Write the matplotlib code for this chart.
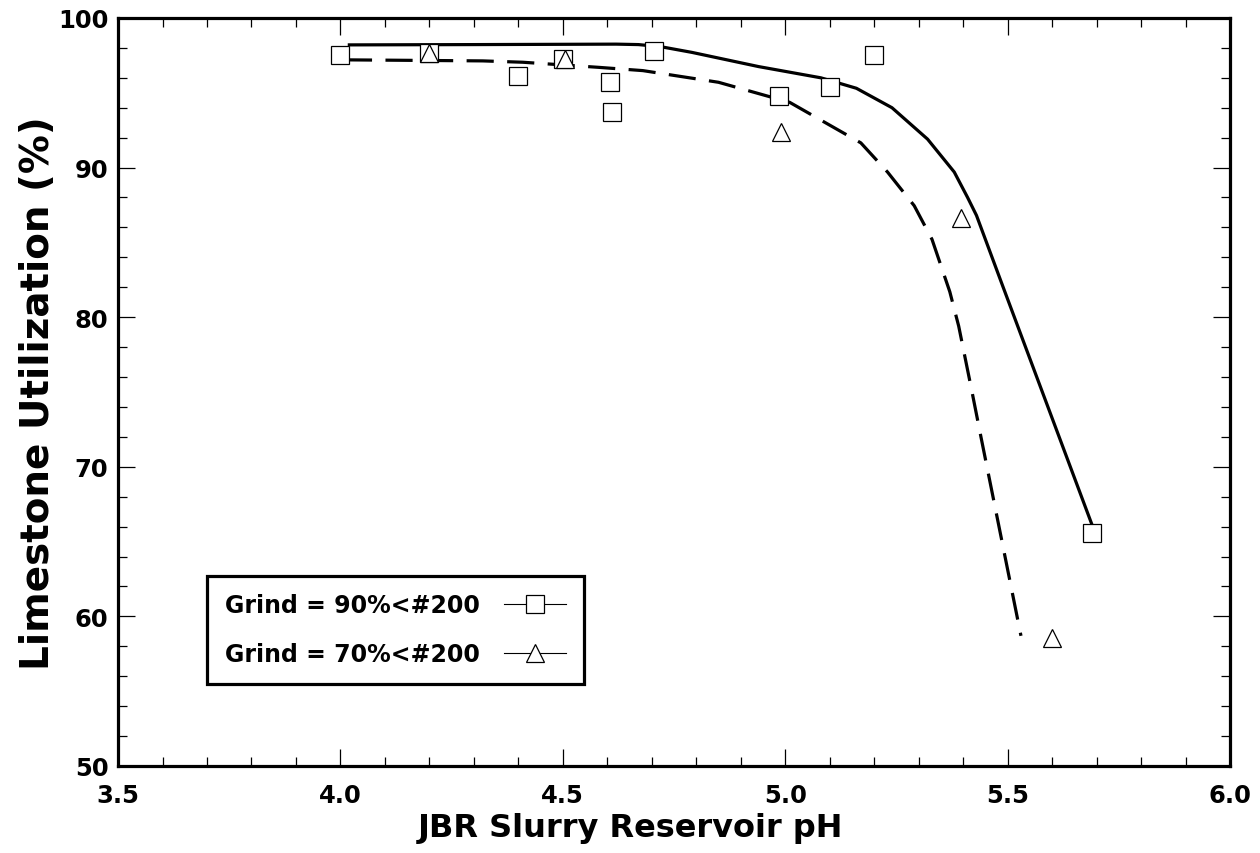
import matplotlib
matplotlib.use("Agg")
import matplotlib.pyplot as plt
from matplotlib.lines import Line2D
from matplotlib.ticker import MultipleLocator

# measured points, grind 90% < #200 (squares)
ph_90 = [4.00, 4.20, 4.40, 4.50, 4.605, 4.61, 4.705, 4.985, 5.10, 5.20, 5.69]
util_90 = [97.55, 97.65, 96.1, 97.25, 95.7, 93.7, 97.8, 94.8, 95.4, 97.55, 65.55]

# measured points, grind 70% < #200 (triangles)
ph_70 = [4.20, 4.505, 4.99, 5.395, 5.60]
util_70 = [97.65, 97.25, 92.4, 86.65, 58.55]

# fitted curves
fit_ph_90 = [4.02, 4.30, 4.62, 4.67, 4.72, 4.79, 4.94, 5.08, 5.16, 5.24, 5.32, 5.38,
             5.41, 5.43, 5.49, 5.69]
fit_util_90 = [98.2, 98.22, 98.25, 98.22, 98.08, 97.7, 96.75, 96.0, 95.3, 94.0, 91.9, 89.7,
               88.0, 86.8, 82.0, 66.1]

fit_ph_70 = [4.01, 4.32, 4.41, 4.58, 4.68, 4.85, 5.01, 5.17, 5.23, 5.29, 5.33,
             5.37, 5.39, 5.42, 5.44, 5.53]
fit_util_70 = [97.2, 97.13, 97.04, 96.7, 96.48, 95.7, 94.36, 91.65, 89.7, 87.45, 85.2,
               81.7, 79.4, 75.0, 72.0, 58.7]

labels = ["Grind = 90%<#200", "Grind = 70%<#200"]

plt.rcParams['font.family'] = ['DejaVu Sans']
plt.rcParams['font.weight'] = 'bold'
plt.rcParams['axes.labelweight'] = 'bold'

fig = plt.figure(figsize=(12.6, 8.54), dpi=100)
ax = fig.add_axes([0.0937, 0.1019, 0.8825, 0.8759])

# fitted curves
ax.plot(fit_ph_90, fit_util_90, color='black', lw=2.3, solid_joinstyle='round')
ax.plot(fit_ph_70, fit_util_70, color='black', lw=2.3,
        linestyle=(0, (8.5, 4.2)), dash_capstyle='butt')

# data markers
mk = dict(linestyle='none', mfc='white', mec='black', mew=0.9, ms=13.5)
ax.plot(ph_90, util_90, marker='s', **mk)
ax.plot(ph_70, util_70, marker='^', **mk)

ax.set_xlim(3.5, 6.0)
ax.set_ylim(50, 100)
ax.xaxis.set_major_locator(MultipleLocator(0.5))
ax.xaxis.set_minor_locator(MultipleLocator(0.1))
ax.yaxis.set_major_locator(MultipleLocator(10))
ax.yaxis.set_minor_locator(MultipleLocator(2))
ax.xaxis.set_major_formatter(plt.FuncFormatter(lambda v, p: f'{v:.1f}'))
ax.yaxis.set_major_formatter(plt.FuncFormatter(lambda v, p: f'{v:.0f}'))

ax.tick_params(which='both', direction='in', top=True, right=True, width=0.9)
ax.tick_params(which='major', length=12.5, labelsize=17.5)
ax.tick_params(axis='x', which='major', pad=12)
ax.tick_params(axis='y', which='major', pad=7)
ax.tick_params(which='minor', length=6.5)

for sp in ax.spines.values():
    sp.set_linewidth(2.3)

ax.set_xlabel('JBR Slurry Reservoir pH', fontsize=23, fontweight='bold')
ax.set_ylabel('Limestone Utilization (%)', fontsize=28, fontweight='bold')
# the x title sits at the figure centre, not the axes centre
ax.xaxis.set_label_coords((630 - 118) / 1112, -0.062)
ax.yaxis.set_label_coords(-0.055, 0.5)

# legend with thin-line proxy handles, marker after the text
handles = [
    Line2D([], [], color='black', lw=0.8, marker='s', mfc='white', mec='black', mew=0.9, ms=13.5),
    Line2D([], [], color='black', lw=0.8, marker='^', mfc='white', mec='black', mew=0.9, ms=13.5),
]
leg = ax.legend(handles, labels, loc='lower left', bbox_to_anchor=(0.080, 0.1096),
                borderaxespad=0, markerfirst=False, fancybox=False, framealpha=1,
                edgecolor='black', handlelength=2.63, handletextpad=1.05,
                labelspacing=1.05, borderpad=0.75,
                prop={'family': 'DejaVu Sans', 'weight': 'bold', 'size': 17})
leg.get_frame().set_linewidth(2.3)

plt.savefig('out.png', dpi=100)
